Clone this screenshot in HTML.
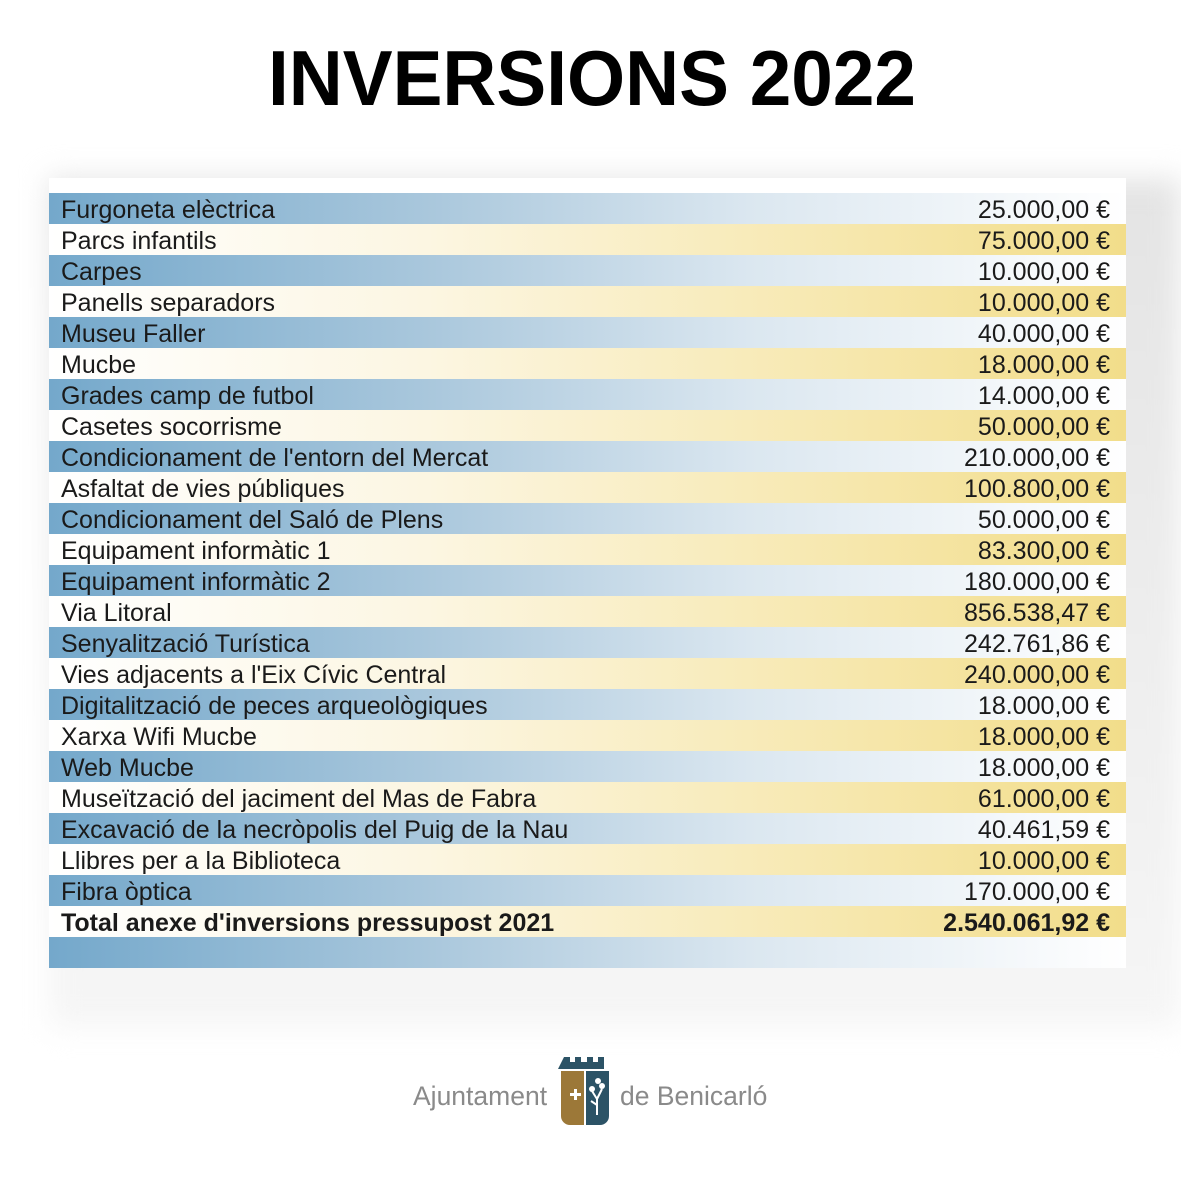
<!DOCTYPE html>
<html><head><meta charset="utf-8"><style>
body{margin:0;width:1181px;height:1181px;background:#fff;position:relative;overflow:hidden;font-family:"Liberation Sans",sans-serif}
.shadow{position:absolute;left:49px;top:178px;width:1132px;height:850px;background:linear-gradient(#e4e4e4,#f6f6f6);filter:blur(14px);}
.tbl{position:absolute;left:49px;top:178px;width:1077px;height:788px;background:#fff}
.row{position:absolute;left:49px;width:1077px;height:31px;font-size:25px;line-height:35px;color:#1a1a1a}
.b{background:linear-gradient(90deg,#74a8cb 0%,#a9c7dc 35%,#dbe7f0 65%,#fff 100%)}
.y{background:linear-gradient(90deg,#fff 0%,#fcf6e2 35%,#f7e9b3 70%,#f2dd8a 100%)}
.row .l{position:absolute;left:12px}
.row .v{position:absolute;right:16px}
.tot{font-weight:bold}
</style></head><body>
<div class="shadow"></div>
<div class="tbl"></div>
<svg style="position:absolute;left:0;top:0" width="1181" height="130"><text x="268" y="105" textLength="648" lengthAdjust="spacingAndGlyphs" font-family="Liberation Sans" font-weight="bold" font-size="78" fill="#000">INVERSIONS 2022</text></svg>
<div id="rows"></div>
<div class="row b" style="top:937px"></div>
<div style="position:absolute;left:413px;top:1081px;font-size:26.5px;color:#8a8a8a">Ajuntament</div>
<div style="position:absolute;left:620px;top:1081px;font-size:26.5px;color:#8a8a8a">de Benicarló</div>
<svg style="position:absolute;left:558px;top:1053px" width="54" height="74">
<path d="M6 4h6v5h5v-5h6v5h6v-5h6v5h5v-5h6v12h-46z" fill="#2c5366"/>
<path d="M3 18h23v54h-14a9 9 0 0 1-9-9z" fill="#9c7838"/>
<path d="M28 18h23v45a9 9 0 0 1-9 9h-14z" fill="#2c5366"/>
<path d="M12 40h4v-4h3v4h4v3h-4v4h-3v-4h-4z" fill="#fff"/>
<path d="M39 62v-16l-5-8M39 46l5-10M39 52l-6-4" stroke="#fff" stroke-width="2" fill="none"/>
<circle cx="34" cy="36" r="3" fill="#fff"/><circle cx="44" cy="33" r="3" fill="#fff"/><circle cx="40" cy="28" r="3" fill="#fff"/>
</svg>
<script>
var d=[["Furgoneta elèctrica","25.000,00 €"],["Parcs infantils","75.000,00 €"],["Carpes","10.000,00 €"],["Panells separadors","10.000,00 €"],["Museu Faller","40.000,00 €"],["Mucbe","18.000,00 €"],["Grades camp de futbol","14.000,00 €"],["Casetes socorrisme","50.000,00 €"],["Condicionament de l'entorn del Mercat","210.000,00 €"],["Asfaltat de vies públiques","100.800,00 €"],["Condicionament del Saló de Plens","50.000,00 €"],["Equipament informàtic 1","83.300,00 €"],["Equipament informàtic 2","180.000,00 €"],["Via Litoral","856.538,47 €"],["Senyalització Turística","242.761,86  €"],["Vies adjacents a l'Eix Cívic Central","240.000,00 €"],["Digitalització de peces arqueològiques","18.000,00 €"],["Xarxa Wifi Mucbe","18.000,00 €"],["Web Mucbe","18.000,00 €"],["Museïtzació del jaciment del Mas de Fabra","61.000,00 €"],["Excavació de la necròpolis del Puig de la Nau","40.461,59  €"],["Llibres per a la Biblioteca","10.000,00 €"],["Fibra òptica","170.000,00 €"],["Total anexe d'inversions pressupost 2021","2.540.061,92 €"]];
var h="";d.forEach(function(r,i){h+='<div class="row '+(i%2?'y':'b')+(i==23?' tot':'')+'" style="top:'+(193+i*31)+'px"><span class="l">'+r[0]+'</span><span class="v">'+r[1]+'</span></div>'});
document.getElementById("rows").innerHTML=h;
</script>
</body></html>
